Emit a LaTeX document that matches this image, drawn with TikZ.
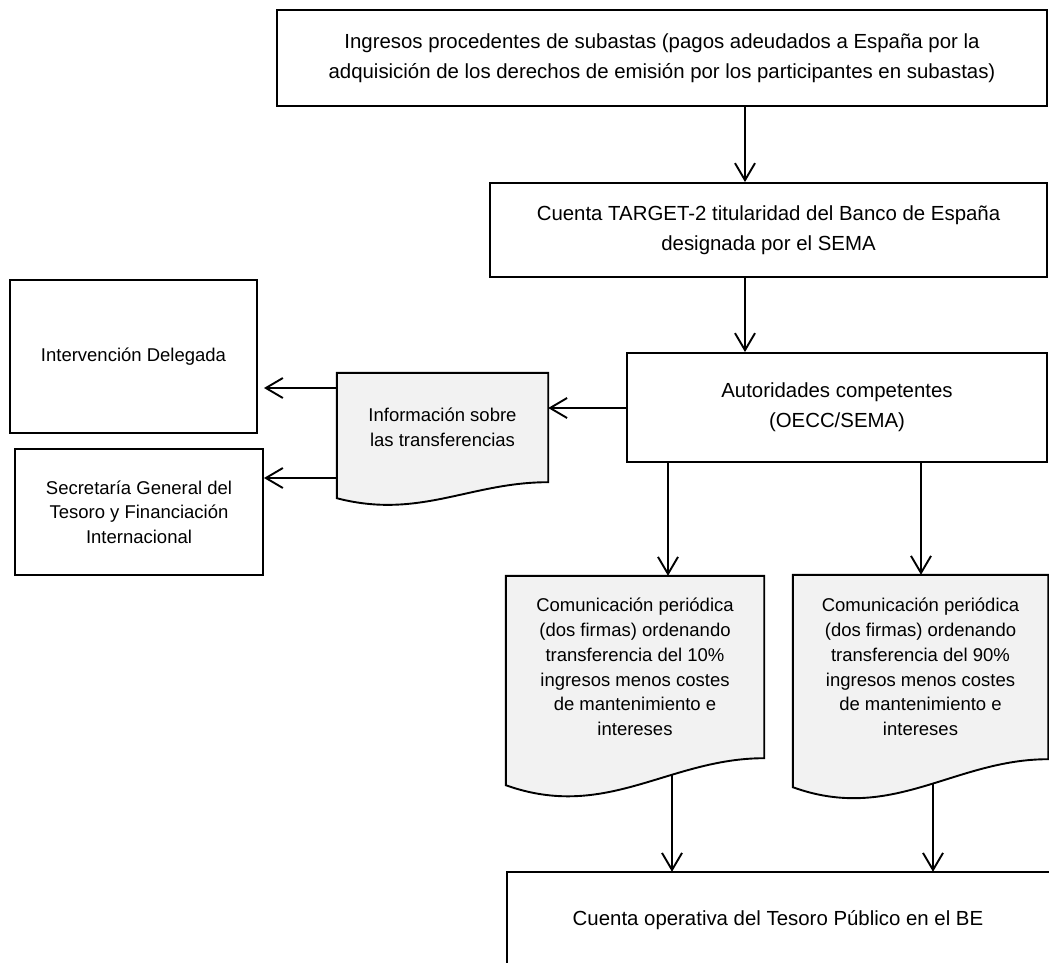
\documentclass[tikz,border=0pt]{standalone}
\usepackage{fontspec}
\setmainfont{Liberation Sans}
\usetikzlibrary{arrows.meta}
\pgfdeclarelayer{conn}
\pgfdeclarelayer{docs}
\pgfsetlayers{conn,docs,main}
\definecolor{docgray}{HTML}{F2F2F2}
\newcommand\mybig{\fontsize{20.4}{30}\selectfont}
\newcommand\mysmall{\fontsize{18.5}{24.7}\selectfont}
% document shape: node name, width, drop of left bottom, depth of wave control
\newcommand\mydocshape[4]{%
  \filldraw[fill=docgray, lw] (#1.north west) -- (#1.north east) -- (#1.south east)
    .. controls +({-0.37*#2},0) and +({0.39*#2},{#4-#3}) .. ([yshift=-#3pt]#1.south west) -- cycle;}
\begin{document}
\begin{tikzpicture}[x=1pt,y=-1pt,
  lw/.style={line width=1.9pt},
  box/.style={draw, lw, rectangle, inner sep=0pt, align=center},
  txt/.style={rectangle, inner sep=0pt, align=center},
  arr/.style={lw, -{Straight Barb[length=17pt,width=20pt,line width=1.9pt]}}]
\useasboundingbox (0,0) rectangle (1049,963);

% boxes
\node[box, font=\mybig, minimum width=770pt, minimum height=96pt] (top) at (662,58)
  {Ingresos procedentes de subastas (pagos adeudados a España por la\\adquisición de los derechos de emisión por los participantes en subastas)};
\node[box, font=\mybig, minimum width=557pt, minimum height=94pt] (sema) at (768.5,230)
  {Cuenta TARGET-2 titularidad del Banco de España\\designada por el SEMA};
\node[box, font=\mybig, minimum width=420pt, minimum height=109pt] (auth) at (837,407.5)
  {Autoridades competentes\\(OECC/SEMA)};
\node[box, font=\mysmall, minimum width=247pt, minimum height=153pt] (interv) at (133.5,356.5)
  {Intervención Delegada};
\node[box, font=\mysmall, minimum width=248pt, minimum height=126pt] (secr) at (139,512)
  {Secretaría General del\\Tesoro y Financiación\\Internacional};

% document shapes (upper rectangle part as node)
\node[txt, font=\mysmall, minimum width=211pt, minimum height=109pt] (info) at (442.5,427.5)
  {Información sobre\\las transferencias};
\node[txt, font=\mysmall, minimum width=258pt, minimum height=182pt] (ldoc) at (635,667)
  {Comunicación periódica\\(dos firmas) ordenando\\transferencia del 10\%\\ingresos menos costes\\de mantenimiento e\\intereses};
\node[txt, font=\mysmall, minimum width=255pt, minimum height=184pt] (rdoc) at (920.5,667)
  {Comunicación periódica\\(dos firmas) ordenando\\transferencia del 90\%\\ingresos menos costes\\de mantenimiento e\\intereses};
\begin{pgfonlayer}{docs}
  \mydocshape{info}{211}{16}{37.5}
  \mydocshape{ldoc}{258}{27}{63}
  \mydocshape{rdoc}{255}{28}{64}
\end{pgfonlayer}

% bottom box (cut by the page edge)
\node[txt, font=\mybig, minimum width=542pt, minimum height=96pt] (bot) at (778,920)
  {Cuenta operativa del Tesoro Público en el BE};
\draw[lw] (bot.south west) -- (bot.north west) -- ([xshift=20pt]bot.north east);

% connector positions
\coordinate (x1) at (745,0);
\coordinate (x2) at (668,0);
\coordinate (x3) at (672,0);
\coordinate (x4) at (933,0);
\coordinate (x5) at (921,0);
\coordinate (yA) at (0,408);
\coordinate (tI) at (264,388);
\coordinate (tS) at (264,478);

% connectors
\draw[arr] (top.south -| x1) -- (sema.north -| x1);
\draw[arr] (sema.south -| x1) -- (auth.north -| x1);
\draw[arr] (auth.west |- yA) -- (info.east |- yA);
\draw[arr] (info.west |- tI) -- (tI);
\draw[arr] (info.west |- tS) -- (tS);
\draw[arr] (auth.south -| x2) -- (ldoc.north -| x2);
\draw[arr] (auth.south -| x5) -- (rdoc.north -| x5);
\begin{pgfonlayer}{conn}
  \draw[arr] (ldoc.center -| x3) -- (bot.north -| x3);
  \draw[arr] (rdoc.center -| x4) -- (bot.north -| x4);
\end{pgfonlayer}
\end{tikzpicture}
\end{document}
